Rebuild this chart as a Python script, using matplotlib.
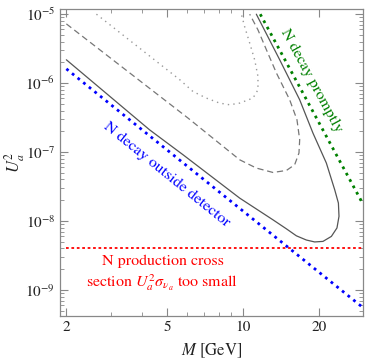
import matplotlib
matplotlib.use('Agg')
import matplotlib.pyplot as plt
from matplotlib.ticker import LogLocator, FixedLocator, NullFormatter, FixedFormatter

plt.rcParams['font.family'] = 'STIXGeneral'
plt.rcParams['mathtext.fontset'] = 'stix'

# 실선 곡선 (M [GeV], U^2)
solid_m = [2.0, 4.27, 5.79, 9.70, 13.14, 14.85, 16.26, 17.81, 19.21, 20.72, 22.37,
           23.54, 23.98, 23.85, 23.06, 21.37, 18.92, 16.76, 13.97, 11.29]
solid_u = [2.18e-6, 2.10e-7, 9.14e-8, 2.15e-8, 1.04e-8, 7.70e-9, 6.10e-9, 5.30e-9, 4.97e-9,
           5.06e-9, 5.98e-9, 7.93e-9, 1.17e-8, 1.82e-8, 2.84e-8, 6.93e-8, 1.88e-7, 5.73e-7,
           2.18e-6, 1.0e-5]

# 점선(dashed) 곡선
dashed_m = [2.0, 6.06, 9.70, 11.29, 13.14, 14.85, 16.01, 16.65, 16.76, 16.35, 15.30,
            13.56, 12.38, 11.46, 10.63]
dashed_u = [7.23e-6, 3.11e-7, 7.73e-8, 5.86e-8, 5.06e-8, 5.41e-8, 6.55e-8, 9.68e-8,
            1.51e-7, 2.94e-7, 5.73e-7, 1.40e-6, 3.04e-6, 5.92e-6, 1.0e-5]

# 회색 점선(dotted) 곡선
dotted_m = [2.63, 5.62, 6.34, 7.16, 8.08, 8.86, 9.70, 10.95, 11.46, 11.46, 11.12,
            10.63, 10.15, 9.85]
dotted_u = [1.0e-5, 1.12e-6, 7.55e-7, 6.07e-7, 5.13e-7, 4.85e-7, 5.13e-7, 6.07e-7,
            8.0e-7, 1.25e-6, 2.18e-6, 3.80e-6, 6.6e-6, 1.0e-5]

# 경계선들
outside_m = [2.0, 29.5]
outside_u = [1.61e-6, 5.73e-10]
prompt_m = [11.7, 29.8]
prompt_u = [1.0e-5, 1.78e-8]
xsec_m = [2.0, 29.8]
xsec_u = [4.0e-9, 4.0e-9]

xticks = [2, 5, 10, 20]
xticklabels = ['2', '5', '10', '20']

fig = plt.figure(figsize=(3.68, 3.59), dpi=100)
ax = fig.add_axes([0.163, 0.120, 0.823, 0.855])

ax.plot(solid_m, solid_u, color='#555555', lw=0.9, solid_capstyle='round')
ax.plot(dashed_m, dashed_u, color='#777777', lw=0.9, dashes=(5, 3))
ax.plot(dotted_m, dotted_u, color='#999999', lw=1.0, dashes=(1, 3))
ax.plot(outside_m, outside_u, color='#0000ff', lw=2.0, dashes=(1, 1.6))
ax.plot(prompt_m, prompt_u, color='#008000', lw=2.0, dashes=(1, 1.6))
ax.plot(xsec_m, xsec_u, color='#ff0000', lw=1.3, dashes=(1.5, 1.5))

ax.set_xscale('log')
ax.set_yscale('log')
ax.set_xlim(1.887, 29.8)
ax.set_ylim(4.2e-10, 1.19e-5)

ax.xaxis.set_major_locator(FixedLocator(xticks))
ax.xaxis.set_major_formatter(FixedFormatter(xticklabels))
ax.xaxis.set_minor_locator(FixedLocator([3, 4, 6, 7, 8, 9, 30]))
ax.xaxis.set_minor_formatter(NullFormatter())
ax.yaxis.set_major_locator(LogLocator(base=10, numticks=10))
ax.yaxis.set_minor_locator(LogLocator(base=10, subs=range(2, 10), numticks=10))
ax.yaxis.set_minor_formatter(NullFormatter())

ax.tick_params(which='both', direction='in', top=True, right=True, colors='#888888',
               labelcolor='#222222', labelsize=11)
ax.tick_params(which='major', length=6, width=0.8)
ax.tick_params(which='minor', length=3, width=0.6)
for s in ax.spines.values():
    s.set_color('#888888')
    s.set_linewidth(0.9)

ax.set_xlabel('$M$ [GeV]', fontsize=12, color='#222222')
ax.xaxis.set_label_coords(0.5, -0.085)
ax.set_ylabel('$U_a^2$', fontsize=12, color='#222222')
ax.yaxis.set_label_coords(-0.108, 0.5)

ax.text(5.0, 4.7e-8, 'N decay outside detector', color='#0000ff', fontsize=11.5,
        rotation=-39, ha='center', va='center', rotation_mode='anchor')
ax.text(18.6, 1.1e-6, 'N decay promptly', color='#008000', fontsize=11.5,
        rotation=-61.5, ha='center', va='center', rotation_mode='anchor')
ax.text(4.8, 1.7e-9, 'N production cross\nsection $U_a^2\\sigma_{\\nu_a}$ too small',
        color='#ff0000', fontsize=11.5, ha='center', va='center', linespacing=1.3)

fig.savefig('out.png', dpi=100)
